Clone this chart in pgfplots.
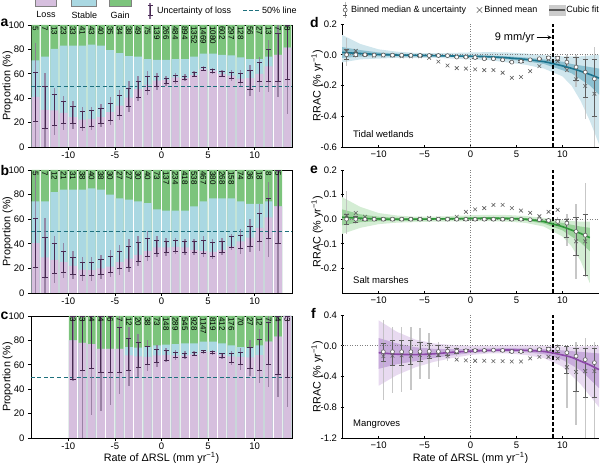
\documentclass[border=0pt]{standalone}
\usepackage{pgfplots}
\pgfplotsset{compat=1.18}
\usepackage{pgfplotstable}
\usepackage{fontspec}
\setmainfont{Liberation Sans}
\setsansfont{Liberation Sans}

\definecolor{lossc}{RGB}{214,191,222}
\definecolor{stablec}{RGB}{170,216,226}
\definecolor{gainc}{RGB}{124,196,124}
\definecolor{errdark}{RGB}{72,42,82}
\definecolor{errlight}{RGB}{140,115,150}
\definecolor{fiftyc}{RGB}{30,112,125}
\definecolor{tealc}{RGB}{28,116,142}
\definecolor{tealout}{RGB}{208,230,237}
\definecolor{tealin}{RGB}{140,192,208}
\definecolor{greenc}{RGB}{46,150,56}
\definecolor{greenout}{RGB}{212,237,212}
\definecolor{greenin}{RGB}{155,210,155}
\definecolor{purc}{RGB}{140,72,168}
\definecolor{purout}{RGB}{232,218,240}
\definecolor{purin}{RGB}{200,172,220}
\definecolor{medgray}{RGB}{95,95,95}
\definecolor{ltgray}{RGB}{185,185,185}

\newcommand{\tickf}{\fontsize{9.5}{11}\selectfont}
\newcommand{\labf}{\fontsize{10.8}{13}\selectfont}
\newcommand{\legf}{\fontsize{9}{11}\selectfont}
\newcommand{\numf}{\fontsize{8}{9}\selectfont}
\newcommand{\letf}{\bfseries\fontsize{14}{14}\selectfont}

\pgfplotstableread{
x loss blue tot n dhi dlo lhi llo
-13.5 41 71 100 5 61 21 85 0
-12.5 30.5 74 100 7 50 15 61 0
-11.5 30 80.5 100 13 43 18 48 10
-10.5 28 83 100 23 37 19 42 14
-9.5 24.5 83 100 33 33 19 38 15
-8.5 22.5 83 100 41 29 16 33 13
-7.5 23 84 100 43 30 17 33 14
-6.5 24.5 83 100 40 32 19 35 16
-5.5 28.5 79.5 100 35 36 22 41 18
-4.5 34 77 100 34 42 26 47 22
-3.5 40.5 74.5 100 38 48 33 54 29
-2.5 47.5 74 100 49 54 41 58 38
-1.5 51 72 100 75 58 46 62 43
-0.5 54.5 71.5 100 139 58 50 61 47
0.5 55 71.5 100 266 56 52 58 50
1.5 57 72 100 484 59 54 61 52
2.5 56.5 72 100 894 58 55 60 54
3.5 59 74 100 1352 61 58 62 57
4.5 64 76.5 100 1469 65 63 66 62
5.5 62.5 76.5 100 1080 64 61 65 60
6.5 60 75.5 100 602 62 58 63 57
7.5 58.5 75 100 297 61 56 63 54
8.5 56 73.5 100 128 60 53 63 50
9.5 56.5 72 100 56 63 47 67 42
10.5 60 72 100 27 69 54 74 45
11.5 66 74 100 13 80 54 88 45
12.5 75.5 75.5 100 7 93 54 100 41
13.5 81.5 81.5 100 8 100 55 100 27
}\dA

\pgfplotstableread{
x loss blue tot n dhi dlo lhi llo
-13.5 40.5 74.5 100 5 61 21 100 0
-12.5 29 74.5 100 7 45 13 61 0
-11.5 27 82 100 12 40 16 46 8
-10.5 25 84 100 21 34 17 41 12
-9.5 22 84 100 31 29 15 34 11
-8.5 19 84 100 38 25 14 29 10
-7.5 18.5 85 100 40 25 14 29 10
-6.5 20 84 100 38 27 15 31 11
-5.5 21.5 80 100 30 30 17 35 13
-4.5 25 77 100 27 34 20 39 15
-3.5 28 76 100 27 38 21 44 17
-2.5 31 74.5 100 30 41 26 46 22
-1.5 34 73 100 40 44 30 50 26
-0.5 37 68 100 73 43 32 46 29
0.5 37 67 100 137 42 33 45 30
1.5 37.5 67 100 234 43 34 45 32
2.5 37 67 100 418 42 33 44 31
3.5 35 70.5 100 538 42 33 44 31
4.5 34 74.5 100 467 43 32 46 29
5.5 33.5 77 100 380 41 30 44 28
6.5 35 77 100 268 42 33 45 31
7.5 38 77 100 158 46 37 48 35
8.5 42 74.5 100 74 47 36 52 32
9.5 45 72.5 100 36 54 38 60 33
10.5 53 72.5 100 18 65 42 72 34
11.5 61.5 74.5 100 8 77 44 90 29
12.5 70.5 70.5 100 5 100 40 100 0
}\dB

\pgfplotstableread{
x loss blue tot n dhi dlo lhi llo
-9.5 80 80 100 3 100 48 100 47
-8.5 78 78 100 3 100 55 100 0
-7.5 77 77 100 4 100 57 100 19
-6.5 73 73 100 4 100 54 100 22
-5.5 73 73 100 6 100 54 100 27
-4.5 73 73 100 7 91 54 100 36
-3.5 67.8 74.5 100 12 82 55 91 43
-2.5 67 74 100 20 78 58 85 50
-1.5 66.5 74.5 100 38 75 60 80 55
-0.5 67.8 76 100 73 73 62 76 58
0.5 68 76.5 100 148 72 64 74 62
1.5 67.8 77 100 289 70 66 72 64
2.5 67.8 77.5 100 545 69 66 71 65
3.5 68.5 77.5 100 928 70 68 71 67
4.5 71 79 100 1147 72 70 72.5 69
5.5 70.5 79 100 819 71 69 72 68
6.5 68 77.5 100 412 69 66 70 65
7.5 67 76 100 176 69 62 71 60
8.5 66.5 74.5 100 70 70 60 74 56
9.5 66 74 100 27 74 57 80 51
10.5 68 76 100 12 81 55 89 45
11.5 79 79 100 7 95 60 100 42
12.5 83 83 100 4 100 52 100 34
13.5 100 100 100 3 100 50 100 25
}\dC

\pgfplotstableread{
x med mean dhi dlo lhi llo
-13.5 0.0 0.02 0.035 -0.03 0.11 -0.07
-12.5 0.0 0.025 0.015 -0.012 0.03 -0.02
-11.5 0.0 0.0 0.005 -0.005 0.01 -0.01
-10.5 -0.002 -0.005 0.003 -0.007 0.006 -0.01
-9.5 -0.002 -0.005 0.003 -0.007 0.006 -0.01
-8.5 -0.003 -0.005 0.002 -0.008 0.005 -0.011
-7.5 -0.003 -0.01 0.002 -0.008 0.005 -0.011
-6.5 -0.004 -0.01 0.0 -0.008 0.003 -0.011
-5.5 -0.004 -0.01 0.0 -0.008 0.003 -0.011
-4.5 -0.005 -0.02 -0.001 -0.009 0.002 -0.012
-3.5 -0.005 -0.045 -0.001 -0.009 0.002 -0.012
-2.5 -0.006 -0.07 -0.002 -0.01 0.001 -0.013
-1.5 -0.015 -0.087 -0.011 -0.019 -0.008 -0.022
-0.5 -0.015 -0.09 -0.011 -0.019 -0.008 -0.022
0.5 -0.018 -0.095 -0.014 -0.022 -0.011 -0.025
1.5 -0.026 -0.1 -0.022 -0.03 -0.019 -0.033
2.5 -0.026 -0.1 -0.022 -0.03 -0.019 -0.033
3.5 -0.033 -0.117 -0.029 -0.037 -0.026 -0.04
4.5 -0.048 -0.15 -0.043 -0.053 -0.04 -0.056
5.5 -0.043 -0.145 -0.038 -0.048 -0.035 -0.051
6.5 -0.033 -0.107 -0.028 -0.038 -0.025 -0.041
7.5 -0.026 -0.074 -0.021 -0.031 -0.018 -0.034
8.5 -0.02 -0.03 -0.014 -0.026 -0.01 -0.03
9.5 -0.022 -0.043 -0.01 -0.035 -0.005 -0.045
10.5 -0.048 -0.1 -0.015 -0.08 0.0 -0.11
11.5 -0.08 -0.16 -0.02 -0.17 0.0 -0.21
12.5 -0.113 -0.203 -0.03 -0.275 0.0 -0.42
13.5 -0.157 -0.254 -0.03 -0.4 0.05 -0.6
}\dD

\pgfplotstableread{
x med mean dhi dlo lhi llo
-13.5 0.0 0.015 0.02 -0.02 0.115 -0.06
-12.5 0.0 0.025 0.01 -0.015 0.02 -0.02
-11.5 0.0 0.01 0.003 -0.004 0.006 -0.008
-10.5 0.0 0.002 0.003 -0.003 0.005 -0.006
-9.5 0.0 0.0 0.003 -0.003 0.005 -0.006
-8.5 0.0 0.0 0.003 -0.003 0.005 -0.006
-7.5 0.0 0.0 0.003 -0.003 0.005 -0.006
-6.5 0.0 0.0 0.003 -0.003 0.005 -0.006
-5.5 0.0 0.002 0.003 -0.003 0.005 -0.006
-4.5 0.0 0.005 0.003 -0.003 0.005 -0.006
-3.5 0.0 0.002 0.003 -0.003 0.005 -0.006
-2.5 0.0 0.0 0.003 -0.003 0.005 -0.006
-1.5 0.0 0.01 0.003 -0.003 0.005 -0.006
-0.5 0.0 0.03 0.003 -0.003 0.005 -0.006
0.5 0.0 0.04 0.003 -0.003 0.005 -0.006
1.5 0.0 0.045 0.003 -0.003 0.005 -0.006
2.5 0.0 0.058 0.003 -0.003 0.005 -0.006
3.5 0.0 0.058 0.003 -0.003 0.005 -0.006
4.5 0.0 0.045 0.003 -0.003 0.005 -0.006
5.5 0.0 0.035 0.003 -0.003 0.005 -0.006
6.5 -0.002 0.026 0.001 -0.005 0.004 -0.008
7.5 -0.002 0.012 0.001 -0.005 0.004 -0.008
8.5 -0.005 0.03 0.0 -0.01 0.003 -0.013
9.5 -0.009 0.038 0.0 -0.02 0.01 -0.03
10.5 -0.016 -0.005 0.0 -0.076 0.02 -0.11
11.5 -0.05 -0.09 0.008 -0.148 0.063 -0.245
12.5 -0.065 -0.09 0.018 -0.23 0.148 -0.235
}\dE

\pgfplotstableread{
x med mean dhi dlo lhi llo
-9.5 -0.078 -0.135 0.03 -0.2 0.33 -0.71
-8.5 -0.078 -0.13 0.07 -0.25 0.25 -0.62
-7.5 -0.078 -0.125 0.07 -0.25 0.25 -0.6
-6.5 -0.078 -0.13 0.07 -0.24 0.25 -0.58
-5.5 -0.075 -0.12 0.05 -0.2 0.23 -0.43
-4.5 -0.072 -0.12 0.03 -0.17 0.16 -0.43
-3.5 -0.075 -0.12 0.0 -0.14 0.05 -0.27
-2.5 -0.07 -0.135 -0.02 -0.13 0.0 -0.2
-1.5 -0.07 -0.18 -0.04 -0.1 -0.02 -0.13
-0.5 -0.065 -0.19 -0.05 -0.08 -0.04 -0.09
0.5 -0.062 -0.195 -0.052 -0.072 -0.045 -0.08
1.5 -0.06 -0.195 -0.05 -0.07 -0.045 -0.075
2.5 -0.057 -0.2 -0.048 -0.066 -0.042 -0.072
3.5 -0.06 -0.2 -0.05 -0.07 -0.045 -0.075
4.5 -0.075 -0.205 -0.065 -0.085 -0.058 -0.092
5.5 -0.075 -0.205 -0.065 -0.085 -0.058 -0.092
6.5 -0.057 -0.165 -0.045 -0.07 -0.035 -0.08
7.5 -0.05 -0.145 -0.035 -0.065 -0.025 -0.08
8.5 -0.045 -0.145 -0.025 -0.065 -0.01 -0.085
9.5 -0.04 -0.165 0.0 -0.09 0.02 -0.13
10.5 -0.09 -0.28 -0.01 -0.36 0.0 -0.81
11.5 -0.135 -0.34 -0.03 -0.6 0.05 -1.03
12.5 -0.18 -0.33 -0.03 -0.67 0.1 -1.2
13.5 -0.22 -0.33 -0.03 -0.67 0.05 -1.25
}\dF

\pgfplotsset{
  common/.style={
    scale only axis, xmin=-14, xmax=14,
    tick align=outside, major tick length=3pt,
    tick style={black, line width=0.6pt},
    ticklabel style={font=\tickf},
    label style={font=\labf},
    /pgf/number format/assume math mode=true,
    xticklabel shift=-1.5pt,
    clip=true,
  },
  leftp/.style={common, width=261pt, height=122pt,
    ymin=0, ymax=100, tick pos=left,
    xtick={-10,-5,0,5,10}, ytick={0,20,40,60,80,100},
    axis line style={line width=0.8pt},
    ylabel={Proportion (\%)},
    ylabel style={at={(axis description cs:-0.09,0.5)}, anchor=center},
    xlabel style={at={(axis description cs:0.5,0)}, anchor=center, yshift=-20.5pt},
  },
  rightp/.style={common, width=257pt, height=123pt,
    axis lines=left, axis line style={-, line width=0.8pt},
    xtick={-10,-5,0,5,10}, xticklabels={−10,−5,0,5,10},
    yticklabel style={/pgf/number format/.cd, fixed, fixed zerofill, precision=1},
    ylabel={RRAC (\% yr\textsuperscript{−1})},
    ylabel style={at={(axis description cs:-0.097,0.5)}, anchor=center},
    xlabel style={at={(axis description cs:0.5,0)}, anchor=center, yshift=-20.5pt},
  },
  gainbar/.style={forget plot, ybar, bar width=0.86, fill=gainc, draw=none},
  stabbar/.style={forget plot, ybar, bar width=0.86, fill=stablec, draw=none},
  lossbar/.style={forget plot, ybar, bar width=0.86, fill=lossc, draw=none},
  lighterr/.style={forget plot, draw=none, mark=none,
    error bars/.cd, y dir=both, y explicit, error mark=none,
    error bar style={draw=#1, line width=1.4pt, opacity=0.8}},
  darkerr/.style={forget plot, draw=none, mark=none,
    error bars/.cd, y dir=both, y explicit, error mark=-,
    error mark options={rotate=90, draw=#1, line width=0.8pt, mark size=2.6pt},
    error bar style={draw=#1, line width=0.9pt}},
  numlab/.style={forget plot, draw=none, mark=none, nodes near coords,
    point meta=explicit symbolic,
    every node near coord/.append style={rotate=-90, anchor=west, font=\numf, inner sep=1pt, text=black}},
}

\begin{document}
\begin{tikzpicture}
\useasboundingbox (0,0) rectangle (600pt,463pt);

% ---------------- panel a
\begin{axis}[leftp, at={(31pt,316pt)}, anchor=south west,
  legend style={at={(0,1)}, anchor=west, xshift=1pt, yshift=17pt, draw=none, fill=none,
    legend columns=-1, nodes={inner sep=0pt}, font=\legf},
]
\addlegendimage{legend image code/.code={
  \draw[fill=lossc, draw=gray, line width=0.6pt] (0pt,4pt) rectangle (21pt,14pt);
  \node[font=\legf, inner sep=0pt] at (10.5pt,-5pt) {Loss};
  \path[draw=none, fill=none] (0pt,0pt) rectangle (35pt,0.1pt);}}
\addlegendentry{}
\addlegendimage{legend image code/.code={
  \draw[fill=stablec, draw=gray, line width=0.6pt] (0pt,4pt) rectangle (25pt,14pt);
  \node[font=\legf, inner sep=0pt] at (12.5pt,-5pt) {Stable};
  \path[draw=none, fill=none] (0pt,0pt) rectangle (36pt,0.1pt);}}
\addlegendentry{}
\addlegendimage{legend image code/.code={
  \draw[fill=gainc, draw=gray, line width=0.6pt] (0pt,4pt) rectangle (22pt,14pt);
  \node[font=\legf, inner sep=0pt] at (11pt,-5pt) {Gain};
  \path[draw=none, fill=none] (0pt,0pt) rectangle (37pt,0.1pt);}}
\addlegendentry{}
\addlegendimage{legend image code/.code={
  \draw[errlight, line width=1.2pt] (3pt,-8pt) -- (3pt,8pt);
  \draw[errdark, line width=0.9pt] (3pt,-5pt) -- (3pt,5pt);
  \draw[errdark, line width=0.8pt] (0.5pt,-5pt) -- (5.5pt,-5pt) (0.5pt,5pt) -- (5.5pt,5pt);
  \path[draw=none, fill=none] (0pt,0pt) rectangle (10pt,0.1pt);}}
\addlegendentry{Uncertainty of loss}
\addlegendimage{legend image code/.code={
  \draw[fiftyc, line width=1pt, dash pattern=on 4pt off 2pt] (12pt,0pt) -- (28pt,0pt);
  \path[draw=none, fill=none] (0pt,0pt) rectangle (31pt,0.1pt);}}
\addlegendentry{50\% line}

\addplot[gainbar] table[x=x, y=tot] {\dA};
\addplot[stabbar] table[x=x, y=blue] {\dA};
\addplot[lossbar] table[x=x, y=loss] {\dA};
\addplot[forget plot, fiftyc, line width=0.9pt, dash pattern=on 4pt off 2.5pt] coordinates {(-14,50) (14,50)};
\addplot[lighterr=errlight] table[x=x, y expr=(\thisrow{lhi}+\thisrow{llo})/2, y error expr=(\thisrow{lhi}-\thisrow{llo})/2] {\dA};
\addplot[darkerr=errdark] table[x=x, y expr=(\thisrow{dhi}+\thisrow{dlo})/2, y error expr=(\thisrow{dhi}-\thisrow{dlo})/2] {\dA};
\addplot[numlab] table[x=x, y=tot, meta=n] {\dA};
\end{axis}

% ---------------- panel b
\begin{axis}[leftp, at={(31pt,170pt)}, anchor=south west, height=123pt]
\addplot[gainbar] table[x=x, y=tot] {\dB};
\addplot[stabbar] table[x=x, y=blue] {\dB};
\addplot[lossbar] table[x=x, y=loss] {\dB};
\addplot[forget plot, fiftyc, line width=0.9pt, dash pattern=on 4pt off 2.5pt] coordinates {(-14,50) (14,50)};
\addplot[lighterr=errlight] table[x=x, y expr=(\thisrow{lhi}+\thisrow{llo})/2, y error expr=(\thisrow{lhi}-\thisrow{llo})/2] {\dB};
\addplot[darkerr=errdark] table[x=x, y expr=(\thisrow{dhi}+\thisrow{dlo})/2, y error expr=(\thisrow{dhi}-\thisrow{dlo})/2] {\dB};
\addplot[numlab] table[x=x, y=tot, meta=n] {\dB};
\end{axis}

% ---------------- panel c
\begin{axis}[leftp, at={(31pt,25pt)}, anchor=south west,
  xlabel={Rate of ΔRSL (mm yr\textsuperscript{−1})}]
\addplot[gainbar] table[x=x, y=tot] {\dC};
\addplot[stabbar] table[x=x, y=blue] {\dC};
\addplot[lossbar] table[x=x, y=loss] {\dC};
\addplot[forget plot, fiftyc, line width=0.9pt, dash pattern=on 4pt off 2.5pt] coordinates {(-14,50) (14,50)};
\addplot[lighterr=errlight] table[x=x, y expr=(\thisrow{lhi}+\thisrow{llo})/2, y error expr=(\thisrow{lhi}-\thisrow{llo})/2] {\dC};
\addplot[darkerr=errdark] table[x=x, y expr=(\thisrow{dhi}+\thisrow{dlo})/2, y error expr=(\thisrow{dhi}-\thisrow{dlo})/2] {\dC};
\addplot[numlab] table[x=x, y=tot, meta=n] {\dC};
\end{axis}

% ---------------- panel d
\begin{axis}[rightp, at={(342pt,316pt)}, anchor=south west,
  ymin=-0.6, ymax=0.2, ytick={-0.6,-0.4,-0.2,0,0.2},
  legend style={at={(0,1)}, anchor=west, xshift=-3pt, yshift=14pt, draw=none, fill=none,
    legend columns=-1, nodes={inner sep=0pt}, font=\legf},
]
\addlegendimage{legend image code/.code={
  \draw[ltgray, line width=1.3pt] (3pt,-8pt) -- (3pt,8pt);
  \draw[medgray, line width=0.8pt] (3pt,-5pt) -- (3pt,5pt) (0.8pt,-5pt) -- (5.2pt,-5pt) (0.8pt,5pt) -- (5.2pt,5pt);
  \draw[medgray, fill=white, line width=0.6pt] (3pt,0pt) circle (2pt);
  \path[draw=none, fill=none] (0pt,0pt) rectangle (9pt,0.1pt);}}
\addlegendentry{Binned median \& uncertainty}
\addlegendimage{legend image code/.code={
  \draw[medgray, line width=0.6pt] (10.5pt,-2.7pt) -- (15.9pt,2.7pt) (10.5pt,2.7pt) -- (15.9pt,-2.7pt);
  \path[draw=none, fill=none] (0pt,0pt) rectangle (18pt,0.1pt);}}
\addlegendentry{Binned mean}
\addlegendimage{legend image code/.code={
  \fill[black!20] (12pt,-5pt) rectangle (28pt,5pt);
  \draw[black!65, line width=1.5pt] (12pt,0pt) -- (28pt,0pt);
  \path[draw=none, fill=none] (0pt,0pt) rectangle (29pt,0.1pt);}}
\addlegendentry{Cubic fit}

\addplot[forget plot, fill=tealout, draw=none] coordinates {
 (-14,0.13) (-12,0.07) (-10,0.035) (-8,0.02) (-6,0.012) (-4,0.01) (-2,0.012) (0,0.015) (2,0.017) (4,0.015) (6,0.008) (8,-0.003) (10,-0.01) (12,-0.01) (14,0.0)
 (14,-0.58) (13,-0.43) (12,-0.3) (11,-0.2) (10,-0.14) (8,-0.09) (6,-0.065) (4,-0.05) (2,-0.035) (0,-0.03) (-2,-0.025) (-4,-0.02) (-6,-0.02) (-8,-0.02) (-10,-0.025) (-12,-0.03) (-14,-0.05)} -- cycle;
\addplot[forget plot, fill=tealin, draw=none] coordinates {
 (-14,0.05) (-12,0.03) (-10,0.015) (-8,0.008) (-6,0.003) (-4,0.0) (-2,-0.002) (0,-0.004) (2,-0.005) (4,-0.01) (6,-0.018) (8,-0.03) (10,-0.045) (11,-0.06) (12,-0.07) (13,-0.08) (14,-0.09)
 (14,-0.26) (13,-0.2) (12,-0.16) (11,-0.12) (10,-0.1) (8,-0.06) (6,-0.042) (4,-0.03) (2,-0.02) (0,-0.016) (-2,-0.014) (-4,-0.012) (-6,-0.01) (-8,-0.01) (-10,-0.01) (-12,-0.012) (-14,-0.02)} -- cycle;
\addplot[forget plot, gray, dotted, line width=0.5pt] coordinates {(-14,0) (14,0)};
\addplot[forget plot, gray, dotted, line width=0.5pt] coordinates {(0,-0.6) (0,0.2)};
\addplot[forget plot, black, line width=1.3pt, dash pattern=on 4pt off 2pt] coordinates {(9,-0.6) (9,0.2)};
\addplot[lighterr=ltgray] table[x=x, y expr=(\thisrow{lhi}+\thisrow{llo})/2, y error expr=(\thisrow{lhi}-\thisrow{llo})/2] {\dD};
\addplot[darkerr=medgray] table[x=x, y expr=(\thisrow{dhi}+\thisrow{dlo})/2, y error expr=(\thisrow{dhi}-\thisrow{dlo})/2] {\dD};
\addplot[forget plot, tealc, line width=1.6pt, smooth] coordinates {
 (-14,0.015) (-12,0.008) (-10,0.002) (-8,-0.002) (-6,-0.004) (-4,-0.006) (-2,-0.008) (0,-0.01) (2,-0.013) (4,-0.02) (6,-0.03) (8,-0.045) (9,-0.058) (10,-0.072) (11,-0.088) (12,-0.107) (13,-0.128) (14,-0.152)};
\addplot[forget plot, only marks, mark=x, mark size=2.6pt, mark options={draw=medgray, line width=0.6pt}] table[x=x, y=mean] {\dD};
\addplot[forget plot, only marks, mark=*, mark size=2pt, mark options={draw=medgray, fill=white, line width=0.6pt}] table[x=x, y=med] {\dD};
\node[anchor=south west, font=\fontsize{9.5}{11}\selectfont] at (rel axis cs:0.03,0.05) {Tidal wetlands};
\node[anchor=east, font=\fontsize{11}{13}\selectfont, inner sep=0pt] at (axis cs:7.0,0.113) {9 mm/yr};
\draw[-stealth, line width=0.9pt] (axis cs:7.2,0.113) -- (axis cs:8.85,0.113);
\end{axis}

% ---------------- panel e
\begin{axis}[rightp, at={(342pt,170pt)}, anchor=south west,
  ymin=-0.3, ymax=0.2, ytick={-0.2,-0.1,0,0.1,0.2}]
\addplot[forget plot, fill=greenout, draw=none] coordinates {
 (-14,0.09) (-12,0.05) (-10,0.025) (-8,0.015) (-6,0.01) (-4,0.01) (-2,0.013) (0,0.016) (2,0.018) (4,0.017) (6,0.013) (8,0.005) (10,-0.005) (12,-0.01) (13,-0.01)
 (13,-0.26) (12,-0.17) (11,-0.11) (10,-0.07) (8,-0.03) (6,-0.015) (4,-0.01) (2,-0.008) (0,-0.008) (-2,-0.009) (-4,-0.01) (-6,-0.012) (-8,-0.014) (-10,-0.02) (-12,-0.035) (-14,-0.06)} -- cycle;
\addplot[forget plot, fill=greenin, draw=none] coordinates {
 (-14,0.04) (-12,0.02) (-10,0.01) (-8,0.006) (-6,0.004) (-4,0.004) (-2,0.006) (0,0.008) (2,0.009) (4,0.008) (6,0.005) (8,-0.002) (10,-0.015) (12,-0.03) (13,-0.035)
 (13,-0.13) (12,-0.095) (11,-0.07) (10,-0.045) (8,-0.018) (6,-0.006) (4,-0.003) (2,-0.001) (0,-0.002) (-2,-0.003) (-4,-0.004) (-6,-0.005) (-8,-0.006) (-10,-0.008) (-12,-0.012) (-14,-0.025)} -- cycle;
\addplot[forget plot, gray, dotted, line width=0.5pt] coordinates {(-14,0) (14,0)};
\addplot[forget plot, gray, dotted, line width=0.5pt] coordinates {(0,-0.3) (0,0.2)};
\addplot[forget plot, black, line width=1.3pt, dash pattern=on 4pt off 2pt] coordinates {(9,-0.3) (9,0.2)};
\addplot[lighterr=ltgray] table[x=x, y expr=(\thisrow{lhi}+\thisrow{llo})/2, y error expr=(\thisrow{lhi}-\thisrow{llo})/2] {\dE};
\addplot[darkerr=medgray] table[x=x, y expr=(\thisrow{dhi}+\thisrow{dlo})/2, y error expr=(\thisrow{dhi}-\thisrow{dlo})/2] {\dE};
\addplot[forget plot, greenc, line width=1.6pt, smooth] coordinates {
 (-14,0.008) (-12,0.004) (-10,0.001) (-8,0) (-6,0) (-4,0.001) (-2,0.002) (0,0.003) (2,0.004) (4,0.003) (6,0) (8,-0.01) (9,-0.02) (10,-0.03) (11,-0.044) (12,-0.058) (13,-0.075)};
\addplot[forget plot, only marks, mark=x, mark size=2.6pt, mark options={draw=medgray, line width=0.6pt}] table[x=x, y=mean] {\dE};
\addplot[forget plot, only marks, mark=*, mark size=2pt, mark options={draw=medgray, fill=white, line width=0.6pt}] table[x=x, y=med] {\dE};
\node[anchor=south west, font=\fontsize{9.5}{11}\selectfont] at (rel axis cs:0.03,0.05) {Salt marshes};
\end{axis}

% ---------------- panel f
\begin{axis}[rightp, at={(342pt,25pt)}, anchor=south west,
  ymin=-1.2, ymax=0.4, ytick={-1.2,-0.8,-0.4,0,0.4},
  xlabel={Rate of ΔRSL (mm yr\textsuperscript{−1})}]
\addplot[forget plot, fill=purout, draw=none] coordinates {
 (-10,0.33) (-8,0.18) (-6,0.08) (-4,0.03) (-2,0.01) (0,0.0) (2,0.0) (4,0.01) (6,0.01) (8,0.0) (10,-0.01) (12,-0.01) (14,0.0)
 (14,-0.8) (12,-0.5) (10,-0.27) (8,-0.16) (6,-0.12) (4,-0.1) (2,-0.1) (0,-0.12) (-2,-0.16) (-4,-0.21) (-6,-0.28) (-8,-0.38) (-10,-0.52)} -- cycle;
\addplot[forget plot, fill=purin, draw=none] coordinates {
 (-10,0.1) (-8,0.03) (-6,-0.02) (-4,-0.04) (-2,-0.045) (0,-0.04) (2,-0.035) (4,-0.03) (6,-0.035) (8,-0.045) (10,-0.06) (12,-0.08) (14,-0.1)
 (14,-0.55) (12,-0.32) (10,-0.18) (8,-0.11) (6,-0.085) (4,-0.075) (2,-0.08) (0,-0.095) (-2,-0.125) (-4,-0.16) (-6,-0.2) (-8,-0.24) (-10,-0.3)} -- cycle;
\addplot[forget plot, gray, dotted, line width=0.5pt] coordinates {(-14,0) (14,0)};
\addplot[forget plot, gray, dotted, line width=0.5pt] coordinates {(0,-1.2) (0,0.4)};
\addplot[forget plot, black, line width=1.3pt, dash pattern=on 4pt off 2pt] coordinates {(9,-1.2) (9,0.4)};
\addplot[lighterr=ltgray] table[x=x, y expr=(\thisrow{lhi}+\thisrow{llo})/2, y error expr=(\thisrow{lhi}-\thisrow{llo})/2] {\dF};
\addplot[darkerr=medgray] table[x=x, y expr=(\thisrow{dhi}+\thisrow{dlo})/2, y error expr=(\thisrow{dhi}-\thisrow{dlo})/2] {\dF};
\addplot[forget plot, purc, line width=1.6pt, smooth] coordinates {
 (-10,-0.09) (-8,-0.11) (-6,-0.115) (-4,-0.105) (-2,-0.085) (0,-0.07) (2,-0.06) (4,-0.055) (6,-0.06) (8,-0.075) (9,-0.095) (10,-0.12) (11,-0.15) (12,-0.2) (13,-0.25) (14,-0.31)};
\addplot[forget plot, only marks, mark=x, mark size=2.6pt, mark options={draw=medgray, line width=0.6pt}] table[x=x, y=mean] {\dF};
\addplot[forget plot, only marks, mark=*, mark size=2pt, mark options={draw=medgray, fill=white, line width=0.6pt}] table[x=x, y=med] {\dF};
\node[anchor=south west, font=\fontsize{9.5}{11}\selectfont] at (rel axis cs:0.03,0.05) {Mangroves};
\end{axis}

% panel letters
\node[font=\letf, anchor=base west, inner sep=0pt] at (0.5pt,436pt) {a};
\node[font=\letf, anchor=base west, inner sep=0pt] at (0.5pt,287pt) {b};
\node[font=\letf, anchor=base west, inner sep=0pt] at (0.5pt,143pt) {c};
\node[font=\letf, anchor=base west, inner sep=0pt] at (310pt,435pt) {d};
\node[font=\letf, anchor=base west, inner sep=0pt] at (310pt,289pt) {e};
\node[font=\letf, anchor=base west, inner sep=0pt] at (311pt,144pt) {f};
\end{tikzpicture}
\end{document}
